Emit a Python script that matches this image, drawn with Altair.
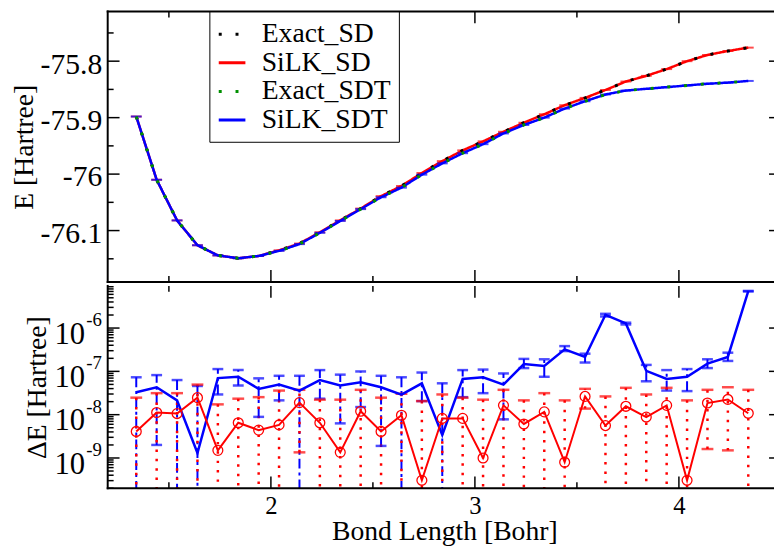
import altair as alt
import pandas as pd

# ---------------- data ----------------
bond_length = [1.34, 1.44, 1.54, 1.64, 1.74, 1.84, 1.94, 2.04, 2.14, 2.24,
               2.34, 2.44, 2.54, 2.64, 2.74, 2.84, 2.94, 3.04, 3.14, 3.24,
               3.34, 3.44, 3.54, 3.64, 3.74, 3.84, 3.94, 4.04, 4.14, 4.24, 4.34]

silk_sd = [-75.898, -76.010, -76.082, -76.126, -76.144, -76.149, -76.145, -76.135, -76.123, -76.103,
           -76.082, -76.061, -76.039, -76.021, -75.998, -75.977, -75.958, -75.942, -75.925, -75.909,
           -75.894, -75.878, -75.865, -75.851, -75.836, -75.826, -75.814, -75.800, -75.789, -75.782, -75.776]
exact_sd = [-75.898, -76.010, -76.082, -76.126, -76.144, -76.149, -76.145, -76.135, -76.123, -76.103,
            -76.082, -76.061, -76.039, -76.021, -75.998, -75.977, -75.958, -75.942, -75.925, -75.909,
            -75.894, -75.878, -75.865, -75.851, -75.836, -75.826, -75.814, -75.800, -75.789, -75.782, -75.776]
silk_sdt = [-75.898, -76.010, -76.082, -76.126, -76.144, -76.149, -76.145, -76.136, -76.124, -76.104,
            -76.083, -76.062, -76.041, -76.024, -76.001, -75.981, -75.963, -75.947, -75.928, -75.913,
            -75.900, -75.884, -75.871, -75.859, -75.852, -75.849, -75.846, -75.843, -75.840, -75.838, -75.835]
exact_sdt = [-75.898, -76.010, -76.082, -76.126, -76.144, -76.149, -76.145, -76.136, -76.124, -76.104,
             -76.083, -76.062, -76.041, -76.024, -76.001, -75.981, -75.963, -75.947, -75.928, -75.913,
             -75.900, -75.884, -75.871, -75.859, -75.852, -75.849, -75.846, -75.843, -75.840, -75.838, -75.835]

dE_sd = [4.1e-9, 1.12e-8, 1.06e-8, 2.47e-8, 1.5e-9, 6.5e-9, 4.4e-9, 5.8e-9, 1.9e-8, 6.5e-9,
         1.35e-9, 1.2e-8, 4.1e-9, 9.7e-9, 3.05e-10, 8.2e-9, 8.2e-9, 1.0e-9, 1.64e-8, 6.1e-9,
         1.16e-8, 8.0e-10, 2.64e-8, 5.6e-9, 1.56e-8, 8.8e-9, 1.64e-8, 3.05e-10, 1.86e-8, 2.25e-8, 1.08e-8]
dE_sd_hi = [2.47e-8, 3.14e-8, 3.14e-8, 4.95e-8, 1.73e-8, 2.34e-8, 2.54e-8, 3.6e-8, 3.75e-8, 2.22e-8,
            2.22e-8, 3.75e-8, 2.47e-8, 3.04e-8, 2.06e-8, 2.93e-8, 2.47e-8, 2.22e-8, 3.75e-8, 2.14e-8,
            3.14e-8, 2.14e-8, 3.95e-8, 2.64e-8, 4.17e-8, 2.93e-8, 4.17e-8, 2.14e-8, 3.75e-8, 4.3e-8, 3.75e-8]
dE_sd_lo = [None, None, None, None, None, None, None, None, 1.35e-9, None,
            None, None, None, None, None, None, None, None, None, None,
            None, None, 1.38e-8, None, None, None, None, None, 1.61e-9, 1.5e-9, None]

dE_sdt = [3.3e-8, 4.3e-8, 2.14e-8, 1.3e-9, 7.0e-8, 7.5e-8, 3.95e-8, 4.95e-8, 3.6e-8, 6.3e-8,
          4.7e-8, 5.6e-8, 4.3e-8, 2.9e-8, 5.3e-8, 3.4e-9, 6.7e-8, 7.3e-8, 4.95e-8, 1.47e-7,
          1.34e-7, 3.22e-7, 2.15e-7, 2.02e-6, 1.28e-6, 1.03e-7, 6.7e-8, 7.5e-8, 1.51e-7, 2.15e-7, 7.1e-6]
dE_sdt_hi = [7.3e-8, 8.2e-8, 6.3e-8, 4.6e-8, 1.13e-7, 1.07e-7, 6.9e-8, 7.9e-8, 7.9e-8, 1.07e-7,
             8.4e-8, 9.95e-8, 7.9e-8, 7.3e-8, 9.4e-8, 5.3e-8, 1.07e-7, 1.1e-7, 8.95e-8, 1.94e-7,
             1.9e-7, 3.83e-7, 2.56e-7, 2.13e-6, 1.33e-6, 1.41e-7, 1.07e-7, 1.13e-7, 1.9e-7, 2.7e-7, 7.2e-6]
dE_sdt_lo = [None, 2.0e-9, None, None, 2.93e-8, 4.7e-8, 8.9e-9, 2.14e-8, None, 2.34e-8,
             6.3e-9, 1.5e-8, 1.9e-9, None, 2.06e-8, None, 2.54e-8, 3.14e-8, 7.8e-9, 1.19e-7,
             7.5e-8, 2.94e-7, 1.6e-7, 1.85e-6, 1.21e-6, 5.9e-8, 3.6e-8, 3.5e-8, 1.19e-7, 1.74e-7, 7.0e-6]

series_names = ["Exact_SD", "SiLK_SD", "Exact_SDT", "SiLK_SDT"]
series_colors = ["black", "#ff0000", "#009000", "#0000ff"]

x_major = [2, 3, 4]
x_minor = [1.5, 2.5, 3.5]
E_major = [-76.1, -76.0, -75.9, -75.8]
E_minor = [-76.15, -76.05, -75.95, -75.85, -75.75]
dE_major = [1e-9, 1e-8, 1e-7, 1e-6]
dE_exp = ["-9", "-8", "-7", "-6"]
dE_minor = [m * 10.0 ** p for p in (-10, -9, -8, -7, -6) for m in range(2, 10)]

# ---------------- layout ----------------
W = 682
H1 = 274
H2 = 205
FONT = "Liberation Serif"

xscale = alt.Scale(domain=[1.2, 4.5], nice=False, zero=False)
yscale_top = alt.Scale(domain=[-76.191, -75.712], nice=False, zero=False)
yscale_bot = alt.Scale(type="log", domain=[2e-10, 9.4e-6], nice=False)

dmin = [v for v in dE_minor if 2e-10 <= v <= 9.4e-6]
one_row = pd.DataFrame({"k": [0]})


def frame(edges, H):
    """Frame lines of a panel, drawn as rules in pixel space."""
    base = alt.Chart(one_row).mark_rule(color="black", strokeWidth=2, strokeCap="square")
    out = []
    if "top" in edges:
        out.append(base.encode(x=alt.value(0), x2=alt.value(W), y=alt.value(0)))
    if "bottom" in edges:
        out.append(base.encode(x=alt.value(0), x2=alt.value(W), y=alt.value(H)))
    if "left" in edges:
        out.append(base.encode(x=alt.value(0), y=alt.value(0), y2=alt.value(H)))
    if "right" in edges:
        out.append(base.encode(x=alt.value(W), y=alt.value(0), y2=alt.value(H)))
    return out


# ---------------- top panel ----------------
rows = []
for name, vals in zip(series_names, [exact_sd, silk_sd, exact_sdt, silk_sdt]):
    for b, v in zip(bond_length, vals):
        rows.append({"x": b, "E": v, "series": name})
df_top = pd.DataFrame(rows)

top_y_axis = alt.Axis(values=E_major, labelExpr="'' + datum.value", labelFontSize=30,
                      labelPadding=6, ticks=False, tickSize=0, domain=False, grid=False,
                      labelFont=FONT, title="E [Hartree]", titleFont=FONT, titleFontSize=28,
                      titleFontWeight="normal", titleX=-84, titleY=H1 / 2,
                      titleAlign="center", titleBaseline="middle", labelOffset=3)
X_top = alt.X("x:Q", scale=xscale, axis=None)
Y_top = alt.Y("E:Q", scale=yscale_top, axis=top_y_axis)

legend = alt.Legend(orient="none", legendX=103, legendY=0, title=None, labelFont=FONT,
                    labelFontSize=28, symbolType="stroke", symbolSize=729, symbolStrokeWidth=3,
                    strokeColor="black", fillColor="white", padding=8, labelOffset=15,
                    rowPadding=-3, labelLimit=300)
color_enc = alt.Color("series:N", scale=alt.Scale(domain=series_names, range=series_colors),
                      legend=legend)
dash_enc = alt.StrokeDash("series:N",
                          scale=alt.Scale(domain=series_names,
                                          range=[[3, 14], [1, 0], [3, 14], [1, 0]]),
                          legend=legend)


def series_line(name, width):
    return alt.Chart(df_top).transform_filter(alt.datum.series == name).mark_line(
        strokeWidth=width, strokeCap="butt").encode(x=X_top, y=Y_top, color=color_enc,
                                                     strokeDash=dash_enc)


def series_caps(name, color):
    return alt.Chart(df_top).transform_filter(alt.datum.series == name).mark_tick(
        orient="horizontal", size=11, thickness=2, color=color).encode(x=X_top, y=Y_top)


top_layers = [
    series_line("SiLK_SD", 2.5),
    series_caps("SiLK_SD", "#ff0000"),
    series_line("Exact_SD", 3),
    series_line("SiLK_SDT", 2.5),
    series_caps("SiLK_SDT", "#0000ff"),
    series_line("Exact_SDT", 3),
]

df_xmaj = pd.DataFrame({"v": x_major})
df_xmin = pd.DataFrame({"v": x_minor})
df_Emaj = pd.DataFrame({"v": E_major})
df_Emin = pd.DataFrame({"v": E_minor})


def xticks(df, xaxis, length, H):
    base = alt.Chart(df).mark_rule(color="black", strokeWidth=1.5)
    X = alt.X("v:Q", scale=xscale, axis=xaxis)
    return [base.encode(x=X, y=alt.value(0), y2=alt.value(length)),
            base.encode(x=X, y=alt.value(H), y2=alt.value(H - length))]


def yticks(df, Y, length):
    base = alt.Chart(df).mark_rule(color="black", strokeWidth=1.5)
    return [base.encode(y=Y, x=alt.value(0), x2=alt.value(length)),
            base.encode(y=Y, x=alt.value(W), x2=alt.value(W - length))]


Y_top_tick = alt.Y("v:Q", scale=yscale_top, axis=top_y_axis)
top_tick_layers = []
top_tick_layers += xticks(df_xmaj, None, 12, H1)
top_tick_layers += xticks(df_xmin, None, 6, H1)
top_tick_layers += yticks(df_Emaj, Y_top_tick, 12)
top_tick_layers += yticks(df_Emin, Y_top_tick, 6)

top = alt.layer(*top_layers, *top_tick_layers,
                *frame(["top", "bottom", "left", "right"], H1)).properties(width=W, height=H1)

# ---------------- bottom panel ----------------
df_bot = pd.DataFrame({
    "x": bond_length,
    "sd": dE_sd, "sd_hi": dE_sd_hi, "sd_lo": dE_sd_lo,
    "sdt": dE_sdt, "sdt_hi": dE_sdt_hi, "sdt_lo": dE_sdt_lo,
})

bot_axis = alt.Axis(labels=False, ticks=False, tickSize=0, domain=False, grid=False,
                    title="ΔE [Hartree]", titleFont=FONT, titleFontSize=28,
                    titleFontWeight="normal", titleX=-71, titleY=H2 / 2,
                    titleAlign="center", titleBaseline="middle")
X_bot_axis = alt.Axis(values=x_major, format="d", labelFont=FONT, labelFontSize=25,
                      labelPadding=6, ticks=False, tickSize=0, domain=False, grid=False,
                      title="Bond Length [Bohr]", titleFont=FONT, titleFontSize=28,
                      titleFontWeight="normal", titleY=52, titleBaseline="alphabetic")
X_bot = alt.X("x:Q", scale=xscale, axis=X_bot_axis)


def Yb(field):
    return alt.Y(f"{field}:Q", scale=yscale_bot, axis=bot_axis)


base = alt.Chart(df_bot)
BLUE_DASH = [10, 4, 3, 4]
RED_DOT = [2.5, 7]

blue_err_b = base.transform_filter("isValid(datum.sdt_lo)").mark_rule(
    color="#0000ff", strokeWidth=2, strokeDash=BLUE_DASH).encode(
    x=X_bot, y=Yb("sdt_lo"), y2="sdt_hi:Q")
blue_err_u = base.transform_filter("!isValid(datum.sdt_lo)").mark_rule(
    color="#0000ff", strokeWidth=2, strokeDash=BLUE_DASH).encode(
    x=X_bot, y=Yb("sdt_hi"), y2=alt.value(H2))
blue_cap_hi = base.mark_tick(orient="horizontal", size=11, thickness=2.5, color="#0000ff").encode(
    x=X_bot, y=Yb("sdt_hi"))
blue_cap_lo = base.transform_filter("isValid(datum.sdt_lo)").mark_tick(
    orient="horizontal", size=11, thickness=2.5, color="#0000ff").encode(x=X_bot, y=Yb("sdt_lo"))

red_err_b = base.transform_filter("isValid(datum.sd_lo)").mark_rule(
    color="#ff0000", strokeWidth=2.5, strokeDash=RED_DOT).encode(
    x=X_bot, y=Yb("sd_lo"), y2="sd_hi:Q")
red_err_u = base.transform_filter("!isValid(datum.sd_lo)").mark_rule(
    color="#ff0000", strokeWidth=2.5, strokeDash=RED_DOT).encode(
    x=X_bot, y=Yb("sd_hi"), y2=alt.value(H2))
red_cap_hi = base.mark_tick(orient="horizontal", size=12, thickness=2.5, color="#ff0000").encode(
    x=X_bot, y=Yb("sd_hi"))
red_cap_lo = base.transform_filter("isValid(datum.sd_lo)").mark_tick(
    orient="horizontal", size=12, thickness=2.5, color="#ff0000").encode(x=X_bot, y=Yb("sd_lo"))

blue_line = base.mark_line(color="#0000ff", strokeWidth=2.5).encode(x=X_bot, y=Yb("sdt"))
red_line = base.mark_line(color="#ff0000", strokeWidth=2).encode(x=X_bot, y=Yb("sd"))
red_pts = base.mark_point(shape="circle", filled=False, color="#ff0000", size=100,
                          strokeWidth=1.3, opacity=1).encode(x=X_bot, y=Yb("sd"))

df_dmaj = pd.DataFrame({"v": dE_major, "e": dE_exp})
df_dmin = pd.DataFrame({"v": dmin})
Y_bot_tick = alt.Y("v:Q", scale=yscale_bot, axis=bot_axis)

lab10 = alt.Chart(df_dmaj).mark_text(text="10", align="right", baseline="alphabetic", dy=16,
                                     fontSize=31, font=FONT, color="black").encode(
    x=alt.value(-23), y=Y_bot_tick)
labsup = alt.Chart(df_dmaj).mark_text(align="right", baseline="alphabetic", dy=-2,
                                      fontSize=19, font=FONT, color="black").encode(
    x=alt.value(-6), y=Y_bot_tick, text="e:N")

bot_tick_layers = []
bot_tick_layers += xticks(df_xmaj, X_bot_axis, 12, H2)
bot_tick_layers += xticks(df_xmin, X_bot_axis, 6, H2)
bot_tick_layers += yticks(df_dmaj, Y_bot_tick, 12)
bot_tick_layers += yticks(df_dmin, Y_bot_tick, 6)

bottom = alt.layer(blue_err_b, blue_err_u, red_err_b, red_err_u,
                   blue_cap_hi, blue_cap_lo, red_cap_hi, red_cap_lo,
                   blue_line, red_line, red_pts, lab10, labsup,
                   *bot_tick_layers,
                   *frame(["bottom", "left", "right"], H2)).properties(width=W, height=H2)

chart = alt.vconcat(top, bottom, spacing=0).properties(
    padding={"left": 2, "top": -2, "right": -9, "bottom": 0}
).configure(font=FONT).configure_view(stroke=None)

chart.save("out.html", embed_options={"renderer": "svg", "actions": False})
